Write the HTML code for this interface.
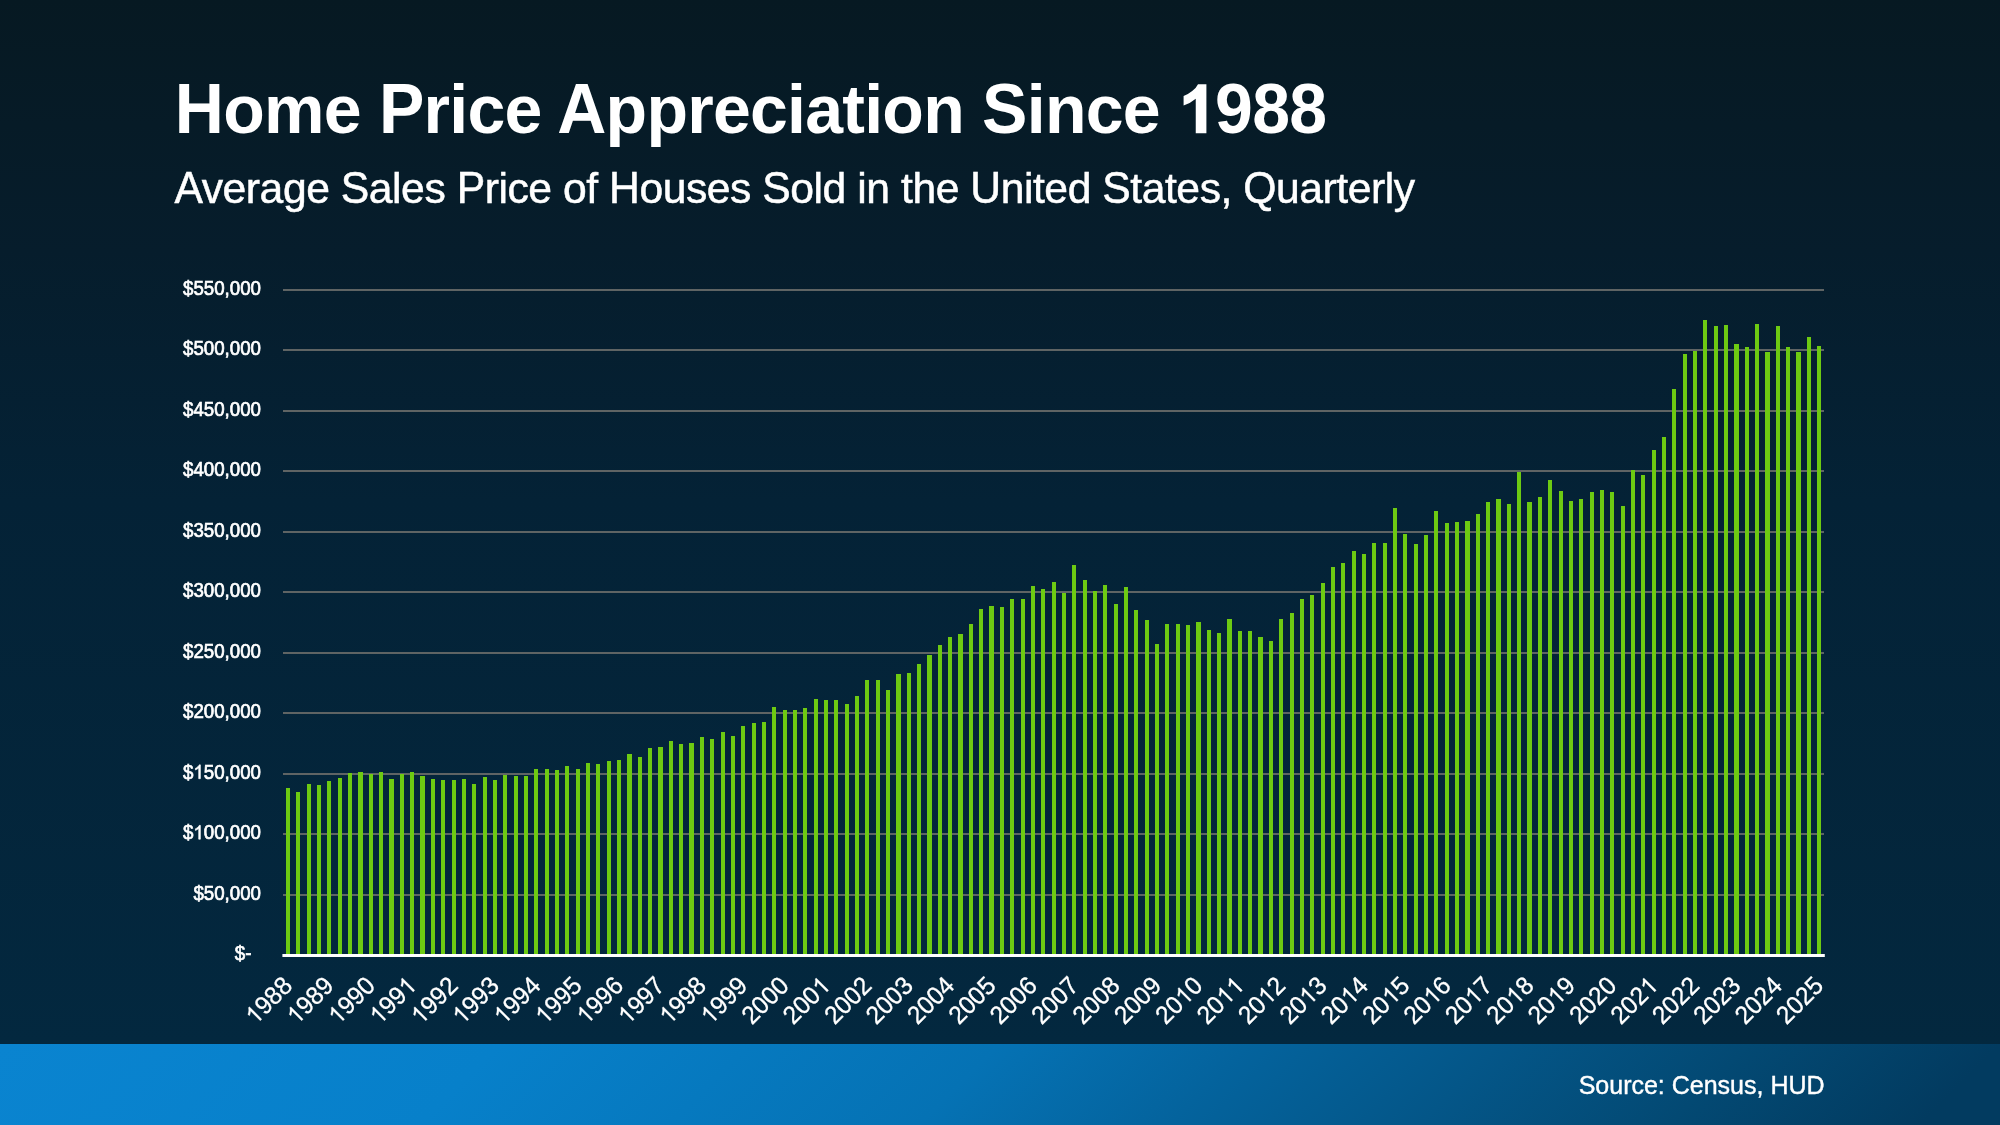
<!DOCTYPE html>
<html><head><meta charset="utf-8"><title>Home Price Appreciation Since 1988</title>
<style>
html,body{margin:0;padding:0;background:#04243c;}
body{width:2000px;height:1125px;overflow:hidden;font-family:"Liberation Sans",sans-serif;}
svg{display:block;will-change:transform;}
text{font-family:"Liberation Sans",sans-serif;fill:#fff;}
path{fill:#fff;}
</style></head><body>
<svg width="2000" height="1125" viewBox="0 0 2000 1125">
<defs>
<linearGradient id="bg" x1="0" y1="0" x2="0" y2="1">
<stop offset="0" stop-color="#061922"/>
<stop offset="0.24" stop-color="#061d2c"/>
<stop offset="0.48" stop-color="#042236"/>
<stop offset="1" stop-color="#03283f"/>
</linearGradient>
<linearGradient id="ft" gradientUnits="userSpaceOnUse" x1="0" y1="1044" x2="1000" y2="2044">
<stop offset="0" stop-color="#0a84d0"/>
<stop offset="0.25" stop-color="#0780ca"/>
<stop offset="0.5" stop-color="#0572b4"/>
<stop offset="0.625" stop-color="#04639d"/>
<stop offset="0.75" stop-color="#045688"/>
<stop offset="0.875" stop-color="#034973"/>
<stop offset="1" stop-color="#023b60"/>
</linearGradient>
</defs>
<rect x="0" y="0" width="2000" height="1044" fill="url(#bg)"/>
<rect x="0" y="1044" width="2000" height="81" fill="url(#ft)"/>
<g font-size="68" font-weight="700"><text y="133.2" x="223.16 263.96 323.69 423.53 449.27 467.43 504.50 605.58 646.38 687.19 712.91 749.99 787.07 805.22 842.30 864.22 882.36 923.17 1026.74 1044.89 1085.69 1122.78">omericeppreciationince</text><text y="0" x="174.80 378.93 557.22 982.13 1215.10 1252.17 1289.25" transform="translate(0,133.2) scale(1,1.035)">HPAS988</text><path d="M858 0L537 0L537 1036Q380 900 171 834L171 1117Q290 1160 430 1270Q560 1370 605 1472L858 1472Z" transform="translate(1177.92,133.2) scale(0.03320,-0.03320)"/></g>
<g font-size="42.67" stroke="#fff" stroke-width="0.5"><text y="203.2" x="201.73 222.59 245.86 259.62 282.89 306.17 368.83 392.10 401.12 424.39 484.65 498.41 507.43 528.29 562.97 586.24 639.38 662.65 685.93 706.79 730.07 790.32 813.59 822.62 857.29 866.31 900.98 912.38 935.65 1000.67 1023.94 1032.96 1044.36 1067.63 1130.29 1141.69 1164.96 1176.36 1199.63 1220.50 1276.02 1299.29 1322.57 1336.32 1347.72 1370.99 1384.75 1393.77">veragealesriceofousesoldinthenitedtates,uarterly</text><text y="0" x="174.50 340.84 456.66 609.03 762.33 970.32 1102.30 1243.30" transform="translate(0,203.2) scale(1,1.03)">ASPHSUSQ</text></g>
<g fill="#5f6464" shape-rendering="crispEdges">
<rect x="283" y="894" width="1541" height="2"/>
<rect x="283" y="833" width="1541" height="2"/>
<rect x="283" y="773" width="1541" height="2"/>
<rect x="283" y="712" width="1541" height="2"/>
<rect x="283" y="652" width="1541" height="2"/>
<rect x="283" y="591" width="1541" height="2"/>
<rect x="283" y="531" width="1541" height="2"/>
<rect x="283" y="470" width="1541" height="2"/>
<rect x="283" y="410" width="1541" height="2"/>
<rect x="283" y="349" width="1541" height="2"/>
<rect x="283" y="289" width="1541" height="2"/>
</g>
<g font-size="18.7" stroke="#fff" stroke-width="0.65">
<g transform="translate(0,899.70)"><text x="261.00" y="0" text-anchor="end" transform="scale(1,1.07)">$50,000</text></g>
<g transform="translate(0,839.20)"><text x="261.00" y="0" text-anchor="end" transform="scale(1,1.07)">00,000</text><path d="M763 0L583 0L583 1147Q518 1085 412.5 1023Q307 961 223 930L223 1104Q374 1175 487 1276Q600 1377 647 1472L763 1472Z" transform="translate(193.40,0) scale(0.00913,-0.00940)" stroke-width="71.2"/><text x="193.40" y="0" text-anchor="end" transform="scale(1,1.07)">$</text></g>
<g transform="translate(0,778.70)"><text x="261.00" y="0" text-anchor="end" transform="scale(1,1.07)">50,000</text><path d="M763 0L583 0L583 1147Q518 1085 412.5 1023Q307 961 223 930L223 1104Q374 1175 487 1276Q600 1377 647 1472L763 1472Z" transform="translate(193.40,0) scale(0.00913,-0.00940)" stroke-width="71.2"/><text x="193.40" y="0" text-anchor="end" transform="scale(1,1.07)">$</text></g>
<g transform="translate(0,718.20)"><text x="261.00" y="0" text-anchor="end" transform="scale(1,1.07)">$200,000</text></g>
<g transform="translate(0,657.70)"><text x="261.00" y="0" text-anchor="end" transform="scale(1,1.07)">$250,000</text></g>
<g transform="translate(0,597.20)"><text x="261.00" y="0" text-anchor="end" transform="scale(1,1.07)">$300,000</text></g>
<g transform="translate(0,536.70)"><text x="261.00" y="0" text-anchor="end" transform="scale(1,1.07)">$350,000</text></g>
<g transform="translate(0,476.20)"><text x="261.00" y="0" text-anchor="end" transform="scale(1,1.07)">$400,000</text></g>
<g transform="translate(0,415.70)"><text x="261.00" y="0" text-anchor="end" transform="scale(1,1.07)">$450,000</text></g>
<g transform="translate(0,355.20)"><text x="261.00" y="0" text-anchor="end" transform="scale(1,1.07)">$500,000</text></g>
<g transform="translate(0,294.70)"><text x="261.00" y="0" text-anchor="end" transform="scale(1,1.07)">$550,000</text></g>
<g transform="translate(0,960.20)"><text x="251.50" y="0" text-anchor="end" transform="scale(1,1.07)">$-</text></g>
</g>
<g fill="#6dca12" shape-rendering="crispEdges">
<rect x="286" y="788" width="4" height="167"/>
<rect x="296" y="792" width="4" height="163"/>
<rect x="307" y="784" width="4" height="171"/>
<rect x="317" y="785" width="4" height="170"/>
<rect x="327" y="781" width="4" height="174"/>
<rect x="338" y="778" width="4" height="177"/>
<rect x="348" y="773" width="4" height="182"/>
<rect x="358" y="772" width="5" height="183"/>
<rect x="369" y="774" width="4" height="181"/>
<rect x="379" y="772" width="4" height="183"/>
<rect x="389" y="779" width="5" height="176"/>
<rect x="400" y="774" width="4" height="181"/>
<rect x="410" y="772" width="4" height="183"/>
<rect x="420" y="776" width="5" height="179"/>
<rect x="431" y="779" width="4" height="176"/>
<rect x="441" y="780" width="4" height="175"/>
<rect x="452" y="780" width="4" height="175"/>
<rect x="462" y="779" width="4" height="176"/>
<rect x="472" y="784" width="4" height="171"/>
<rect x="483" y="777" width="4" height="178"/>
<rect x="493" y="780" width="4" height="175"/>
<rect x="503" y="775" width="4" height="180"/>
<rect x="514" y="776" width="4" height="179"/>
<rect x="524" y="776" width="4" height="179"/>
<rect x="534" y="769" width="4" height="186"/>
<rect x="545" y="769" width="4" height="186"/>
<rect x="555" y="770" width="4" height="185"/>
<rect x="565" y="766" width="4" height="189"/>
<rect x="576" y="769" width="4" height="186"/>
<rect x="586" y="763" width="4" height="192"/>
<rect x="596" y="764" width="4" height="191"/>
<rect x="607" y="761" width="4" height="194"/>
<rect x="617" y="760" width="4" height="195"/>
<rect x="627" y="754" width="5" height="201"/>
<rect x="638" y="757" width="4" height="198"/>
<rect x="648" y="748" width="4" height="207"/>
<rect x="658" y="747" width="5" height="208"/>
<rect x="669" y="741" width="4" height="214"/>
<rect x="679" y="744" width="4" height="211"/>
<rect x="689" y="743" width="5" height="212"/>
<rect x="700" y="737" width="4" height="218"/>
<rect x="710" y="739" width="4" height="216"/>
<rect x="721" y="732" width="4" height="223"/>
<rect x="731" y="736" width="4" height="219"/>
<rect x="741" y="726" width="4" height="229"/>
<rect x="752" y="723" width="4" height="232"/>
<rect x="762" y="722" width="4" height="233"/>
<rect x="772" y="707" width="4" height="248"/>
<rect x="783" y="710" width="4" height="245"/>
<rect x="793" y="710" width="4" height="245"/>
<rect x="803" y="708" width="4" height="247"/>
<rect x="814" y="699" width="4" height="256"/>
<rect x="824" y="700" width="4" height="255"/>
<rect x="834" y="700" width="4" height="255"/>
<rect x="845" y="704" width="4" height="251"/>
<rect x="855" y="696" width="4" height="259"/>
<rect x="865" y="680" width="4" height="275"/>
<rect x="876" y="680" width="4" height="275"/>
<rect x="886" y="690" width="4" height="265"/>
<rect x="896" y="674" width="5" height="281"/>
<rect x="907" y="673" width="4" height="282"/>
<rect x="917" y="664" width="4" height="291"/>
<rect x="927" y="655" width="5" height="300"/>
<rect x="938" y="645" width="4" height="310"/>
<rect x="948" y="637" width="4" height="318"/>
<rect x="958" y="634" width="5" height="321"/>
<rect x="969" y="624" width="4" height="331"/>
<rect x="979" y="609" width="4" height="346"/>
<rect x="989" y="606" width="5" height="349"/>
<rect x="1000" y="607" width="4" height="348"/>
<rect x="1010" y="599" width="4" height="356"/>
<rect x="1021" y="599" width="4" height="356"/>
<rect x="1031" y="586" width="4" height="369"/>
<rect x="1041" y="589" width="4" height="366"/>
<rect x="1052" y="582" width="4" height="373"/>
<rect x="1062" y="593" width="4" height="362"/>
<rect x="1072" y="565" width="4" height="390"/>
<rect x="1083" y="580" width="4" height="375"/>
<rect x="1093" y="591" width="4" height="364"/>
<rect x="1103" y="585" width="4" height="370"/>
<rect x="1114" y="604" width="4" height="351"/>
<rect x="1124" y="587" width="4" height="368"/>
<rect x="1134" y="610" width="4" height="345"/>
<rect x="1145" y="620" width="4" height="335"/>
<rect x="1155" y="644" width="4" height="311"/>
<rect x="1165" y="624" width="4" height="331"/>
<rect x="1176" y="624" width="4" height="331"/>
<rect x="1186" y="625" width="4" height="330"/>
<rect x="1196" y="622" width="5" height="333"/>
<rect x="1207" y="630" width="4" height="325"/>
<rect x="1217" y="633" width="4" height="322"/>
<rect x="1227" y="619" width="5" height="336"/>
<rect x="1238" y="631" width="4" height="324"/>
<rect x="1248" y="631" width="4" height="324"/>
<rect x="1258" y="637" width="5" height="318"/>
<rect x="1269" y="641" width="4" height="314"/>
<rect x="1279" y="619" width="4" height="336"/>
<rect x="1290" y="613" width="4" height="342"/>
<rect x="1300" y="599" width="4" height="356"/>
<rect x="1310" y="595" width="4" height="360"/>
<rect x="1321" y="583" width="4" height="372"/>
<rect x="1331" y="567" width="4" height="388"/>
<rect x="1341" y="563" width="4" height="392"/>
<rect x="1352" y="551" width="4" height="404"/>
<rect x="1362" y="554" width="4" height="401"/>
<rect x="1372" y="543" width="4" height="412"/>
<rect x="1383" y="543" width="4" height="412"/>
<rect x="1393" y="508" width="4" height="447"/>
<rect x="1403" y="534" width="4" height="421"/>
<rect x="1414" y="544" width="4" height="411"/>
<rect x="1424" y="535" width="4" height="420"/>
<rect x="1434" y="511" width="4" height="444"/>
<rect x="1445" y="523" width="4" height="432"/>
<rect x="1455" y="522" width="4" height="433"/>
<rect x="1465" y="521" width="5" height="434"/>
<rect x="1476" y="514" width="4" height="441"/>
<rect x="1486" y="502" width="4" height="453"/>
<rect x="1496" y="499" width="5" height="456"/>
<rect x="1507" y="504" width="4" height="451"/>
<rect x="1517" y="472" width="4" height="483"/>
<rect x="1527" y="502" width="5" height="453"/>
<rect x="1538" y="497" width="4" height="458"/>
<rect x="1548" y="480" width="4" height="475"/>
<rect x="1559" y="491" width="4" height="464"/>
<rect x="1569" y="501" width="4" height="454"/>
<rect x="1579" y="499" width="4" height="456"/>
<rect x="1590" y="492" width="4" height="463"/>
<rect x="1600" y="490" width="4" height="465"/>
<rect x="1610" y="492" width="4" height="463"/>
<rect x="1621" y="506" width="4" height="449"/>
<rect x="1631" y="470" width="4" height="485"/>
<rect x="1641" y="475" width="4" height="480"/>
<rect x="1652" y="450" width="4" height="505"/>
<rect x="1662" y="437" width="4" height="518"/>
<rect x="1672" y="389" width="4" height="566"/>
<rect x="1683" y="354" width="4" height="601"/>
<rect x="1693" y="351" width="4" height="604"/>
<rect x="1703" y="320" width="4" height="635"/>
<rect x="1714" y="326" width="4" height="629"/>
<rect x="1724" y="325" width="4" height="630"/>
<rect x="1734" y="344" width="5" height="611"/>
<rect x="1745" y="347" width="4" height="608"/>
<rect x="1755" y="324" width="4" height="631"/>
<rect x="1765" y="352" width="5" height="603"/>
<rect x="1776" y="326" width="4" height="629"/>
<rect x="1786" y="347" width="4" height="608"/>
<rect x="1796" y="352" width="5" height="603"/>
<rect x="1807" y="337" width="4" height="618"/>
<rect x="1817" y="346" width="4" height="609"/>
</g>
<rect x="282.4" y="954" width="1542.4" height="3" fill="#fff"/>
<g font-size="24.4" stroke="#fff" stroke-width="0.3">
<g transform="translate(293.74,987.2) rotate(-45)"><text x="0.00" y="0" text-anchor="end" transform="scale(1,1.04)">988</text><path d="M763 0L583 0L583 1147Q518 1085 412.5 1023Q307 961 223 930L223 1104Q374 1175 487 1276Q600 1377 647 1472L763 1472Z" transform="translate(-54.28,0) scale(0.01191,-0.01191)" stroke-width="25.2"/></g>
<g transform="translate(335.12,987.2) rotate(-45)"><text x="0.00" y="0" text-anchor="end" transform="scale(1,1.04)">989</text><path d="M763 0L583 0L583 1147Q518 1085 412.5 1023Q307 961 223 930L223 1104Q374 1175 487 1276Q600 1377 647 1472L763 1472Z" transform="translate(-54.28,0) scale(0.01191,-0.01191)" stroke-width="25.2"/></g>
<g transform="translate(376.50,987.2) rotate(-45)"><text x="0.00" y="0" text-anchor="end" transform="scale(1,1.04)">990</text><path d="M763 0L583 0L583 1147Q518 1085 412.5 1023Q307 961 223 930L223 1104Q374 1175 487 1276Q600 1377 647 1472L763 1472Z" transform="translate(-54.28,0) scale(0.01191,-0.01191)" stroke-width="25.2"/></g>
<g transform="translate(417.89,987.2) rotate(-45)"><path d="M763 0L583 0L583 1147Q518 1085 412.5 1023Q307 961 223 930L223 1104Q374 1175 487 1276Q600 1377 647 1472L763 1472Z" transform="translate(-13.57,0) scale(0.01191,-0.01191)" stroke-width="25.2"/><text x="-13.57" y="0" text-anchor="end" transform="scale(1,1.04)">99</text><path d="M763 0L583 0L583 1147Q518 1085 412.5 1023Q307 961 223 930L223 1104Q374 1175 487 1276Q600 1377 647 1472L763 1472Z" transform="translate(-54.28,0) scale(0.01191,-0.01191)" stroke-width="25.2"/></g>
<g transform="translate(459.27,987.2) rotate(-45)"><text x="0.00" y="0" text-anchor="end" transform="scale(1,1.04)">992</text><path d="M763 0L583 0L583 1147Q518 1085 412.5 1023Q307 961 223 930L223 1104Q374 1175 487 1276Q600 1377 647 1472L763 1472Z" transform="translate(-54.28,0) scale(0.01191,-0.01191)" stroke-width="25.2"/></g>
<g transform="translate(500.65,987.2) rotate(-45)"><text x="0.00" y="0" text-anchor="end" transform="scale(1,1.04)">993</text><path d="M763 0L583 0L583 1147Q518 1085 412.5 1023Q307 961 223 930L223 1104Q374 1175 487 1276Q600 1377 647 1472L763 1472Z" transform="translate(-54.28,0) scale(0.01191,-0.01191)" stroke-width="25.2"/></g>
<g transform="translate(542.04,987.2) rotate(-45)"><text x="0.00" y="0" text-anchor="end" transform="scale(1,1.04)">994</text><path d="M763 0L583 0L583 1147Q518 1085 412.5 1023Q307 961 223 930L223 1104Q374 1175 487 1276Q600 1377 647 1472L763 1472Z" transform="translate(-54.28,0) scale(0.01191,-0.01191)" stroke-width="25.2"/></g>
<g transform="translate(583.42,987.2) rotate(-45)"><text x="0.00" y="0" text-anchor="end" transform="scale(1,1.04)">995</text><path d="M763 0L583 0L583 1147Q518 1085 412.5 1023Q307 961 223 930L223 1104Q374 1175 487 1276Q600 1377 647 1472L763 1472Z" transform="translate(-54.28,0) scale(0.01191,-0.01191)" stroke-width="25.2"/></g>
<g transform="translate(624.80,987.2) rotate(-45)"><text x="0.00" y="0" text-anchor="end" transform="scale(1,1.04)">996</text><path d="M763 0L583 0L583 1147Q518 1085 412.5 1023Q307 961 223 930L223 1104Q374 1175 487 1276Q600 1377 647 1472L763 1472Z" transform="translate(-54.28,0) scale(0.01191,-0.01191)" stroke-width="25.2"/></g>
<g transform="translate(666.19,987.2) rotate(-45)"><text x="0.00" y="0" text-anchor="end" transform="scale(1,1.04)">997</text><path d="M763 0L583 0L583 1147Q518 1085 412.5 1023Q307 961 223 930L223 1104Q374 1175 487 1276Q600 1377 647 1472L763 1472Z" transform="translate(-54.28,0) scale(0.01191,-0.01191)" stroke-width="25.2"/></g>
<g transform="translate(707.57,987.2) rotate(-45)"><text x="0.00" y="0" text-anchor="end" transform="scale(1,1.04)">998</text><path d="M763 0L583 0L583 1147Q518 1085 412.5 1023Q307 961 223 930L223 1104Q374 1175 487 1276Q600 1377 647 1472L763 1472Z" transform="translate(-54.28,0) scale(0.01191,-0.01191)" stroke-width="25.2"/></g>
<g transform="translate(748.95,987.2) rotate(-45)"><text x="0.00" y="0" text-anchor="end" transform="scale(1,1.04)">999</text><path d="M763 0L583 0L583 1147Q518 1085 412.5 1023Q307 961 223 930L223 1104Q374 1175 487 1276Q600 1377 647 1472L763 1472Z" transform="translate(-54.28,0) scale(0.01191,-0.01191)" stroke-width="25.2"/></g>
<g transform="translate(790.34,987.2) rotate(-45)"><text x="0.00" y="0" text-anchor="end" transform="scale(1,1.04)">2000</text></g>
<g transform="translate(831.72,987.2) rotate(-45)"><path d="M763 0L583 0L583 1147Q518 1085 412.5 1023Q307 961 223 930L223 1104Q374 1175 487 1276Q600 1377 647 1472L763 1472Z" transform="translate(-13.57,0) scale(0.01191,-0.01191)" stroke-width="25.2"/><text x="-13.57" y="0" text-anchor="end" transform="scale(1,1.04)">200</text></g>
<g transform="translate(873.11,987.2) rotate(-45)"><text x="0.00" y="0" text-anchor="end" transform="scale(1,1.04)">2002</text></g>
<g transform="translate(914.49,987.2) rotate(-45)"><text x="0.00" y="0" text-anchor="end" transform="scale(1,1.04)">2003</text></g>
<g transform="translate(955.87,987.2) rotate(-45)"><text x="0.00" y="0" text-anchor="end" transform="scale(1,1.04)">2004</text></g>
<g transform="translate(997.26,987.2) rotate(-45)"><text x="0.00" y="0" text-anchor="end" transform="scale(1,1.04)">2005</text></g>
<g transform="translate(1038.64,987.2) rotate(-45)"><text x="0.00" y="0" text-anchor="end" transform="scale(1,1.04)">2006</text></g>
<g transform="translate(1080.02,987.2) rotate(-45)"><text x="0.00" y="0" text-anchor="end" transform="scale(1,1.04)">2007</text></g>
<g transform="translate(1121.41,987.2) rotate(-45)"><text x="0.00" y="0" text-anchor="end" transform="scale(1,1.04)">2008</text></g>
<g transform="translate(1162.79,987.2) rotate(-45)"><text x="0.00" y="0" text-anchor="end" transform="scale(1,1.04)">2009</text></g>
<g transform="translate(1204.17,987.2) rotate(-45)"><text x="0.00" y="0" text-anchor="end" transform="scale(1,1.04)">0</text><path d="M763 0L583 0L583 1147Q518 1085 412.5 1023Q307 961 223 930L223 1104Q374 1175 487 1276Q600 1377 647 1472L763 1472Z" transform="translate(-27.14,0) scale(0.01191,-0.01191)" stroke-width="25.2"/><text x="-27.14" y="0" text-anchor="end" transform="scale(1,1.04)">20</text></g>
<g transform="translate(1245.56,987.2) rotate(-45)"><path d="M763 0L583 0L583 1147Q518 1085 412.5 1023Q307 961 223 930L223 1104Q374 1175 487 1276Q600 1377 647 1472L763 1472Z" transform="translate(-13.57,0) scale(0.01191,-0.01191)" stroke-width="25.2"/><path d="M763 0L583 0L583 1147Q518 1085 412.5 1023Q307 961 223 930L223 1104Q374 1175 487 1276Q600 1377 647 1472L763 1472Z" transform="translate(-27.14,0) scale(0.01191,-0.01191)" stroke-width="25.2"/><text x="-27.14" y="0" text-anchor="end" transform="scale(1,1.04)">20</text></g>
<g transform="translate(1286.94,987.2) rotate(-45)"><text x="0.00" y="0" text-anchor="end" transform="scale(1,1.04)">2</text><path d="M763 0L583 0L583 1147Q518 1085 412.5 1023Q307 961 223 930L223 1104Q374 1175 487 1276Q600 1377 647 1472L763 1472Z" transform="translate(-27.14,0) scale(0.01191,-0.01191)" stroke-width="25.2"/><text x="-27.14" y="0" text-anchor="end" transform="scale(1,1.04)">20</text></g>
<g transform="translate(1328.32,987.2) rotate(-45)"><text x="0.00" y="0" text-anchor="end" transform="scale(1,1.04)">3</text><path d="M763 0L583 0L583 1147Q518 1085 412.5 1023Q307 961 223 930L223 1104Q374 1175 487 1276Q600 1377 647 1472L763 1472Z" transform="translate(-27.14,0) scale(0.01191,-0.01191)" stroke-width="25.2"/><text x="-27.14" y="0" text-anchor="end" transform="scale(1,1.04)">20</text></g>
<g transform="translate(1369.71,987.2) rotate(-45)"><text x="0.00" y="0" text-anchor="end" transform="scale(1,1.04)">4</text><path d="M763 0L583 0L583 1147Q518 1085 412.5 1023Q307 961 223 930L223 1104Q374 1175 487 1276Q600 1377 647 1472L763 1472Z" transform="translate(-27.14,0) scale(0.01191,-0.01191)" stroke-width="25.2"/><text x="-27.14" y="0" text-anchor="end" transform="scale(1,1.04)">20</text></g>
<g transform="translate(1411.09,987.2) rotate(-45)"><text x="0.00" y="0" text-anchor="end" transform="scale(1,1.04)">5</text><path d="M763 0L583 0L583 1147Q518 1085 412.5 1023Q307 961 223 930L223 1104Q374 1175 487 1276Q600 1377 647 1472L763 1472Z" transform="translate(-27.14,0) scale(0.01191,-0.01191)" stroke-width="25.2"/><text x="-27.14" y="0" text-anchor="end" transform="scale(1,1.04)">20</text></g>
<g transform="translate(1452.47,987.2) rotate(-45)"><text x="0.00" y="0" text-anchor="end" transform="scale(1,1.04)">6</text><path d="M763 0L583 0L583 1147Q518 1085 412.5 1023Q307 961 223 930L223 1104Q374 1175 487 1276Q600 1377 647 1472L763 1472Z" transform="translate(-27.14,0) scale(0.01191,-0.01191)" stroke-width="25.2"/><text x="-27.14" y="0" text-anchor="end" transform="scale(1,1.04)">20</text></g>
<g transform="translate(1493.86,987.2) rotate(-45)"><text x="0.00" y="0" text-anchor="end" transform="scale(1,1.04)">7</text><path d="M763 0L583 0L583 1147Q518 1085 412.5 1023Q307 961 223 930L223 1104Q374 1175 487 1276Q600 1377 647 1472L763 1472Z" transform="translate(-27.14,0) scale(0.01191,-0.01191)" stroke-width="25.2"/><text x="-27.14" y="0" text-anchor="end" transform="scale(1,1.04)">20</text></g>
<g transform="translate(1535.24,987.2) rotate(-45)"><text x="0.00" y="0" text-anchor="end" transform="scale(1,1.04)">8</text><path d="M763 0L583 0L583 1147Q518 1085 412.5 1023Q307 961 223 930L223 1104Q374 1175 487 1276Q600 1377 647 1472L763 1472Z" transform="translate(-27.14,0) scale(0.01191,-0.01191)" stroke-width="25.2"/><text x="-27.14" y="0" text-anchor="end" transform="scale(1,1.04)">20</text></g>
<g transform="translate(1576.62,987.2) rotate(-45)"><text x="0.00" y="0" text-anchor="end" transform="scale(1,1.04)">9</text><path d="M763 0L583 0L583 1147Q518 1085 412.5 1023Q307 961 223 930L223 1104Q374 1175 487 1276Q600 1377 647 1472L763 1472Z" transform="translate(-27.14,0) scale(0.01191,-0.01191)" stroke-width="25.2"/><text x="-27.14" y="0" text-anchor="end" transform="scale(1,1.04)">20</text></g>
<g transform="translate(1618.01,987.2) rotate(-45)"><text x="0.00" y="0" text-anchor="end" transform="scale(1,1.04)">2020</text></g>
<g transform="translate(1659.39,987.2) rotate(-45)"><path d="M763 0L583 0L583 1147Q518 1085 412.5 1023Q307 961 223 930L223 1104Q374 1175 487 1276Q600 1377 647 1472L763 1472Z" transform="translate(-13.57,0) scale(0.01191,-0.01191)" stroke-width="25.2"/><text x="-13.57" y="0" text-anchor="end" transform="scale(1,1.04)">202</text></g>
<g transform="translate(1700.77,987.2) rotate(-45)"><text x="0.00" y="0" text-anchor="end" transform="scale(1,1.04)">2022</text></g>
<g transform="translate(1742.16,987.2) rotate(-45)"><text x="0.00" y="0" text-anchor="end" transform="scale(1,1.04)">2023</text></g>
<g transform="translate(1783.54,987.2) rotate(-45)"><text x="0.00" y="0" text-anchor="end" transform="scale(1,1.04)">2024</text></g>
<g transform="translate(1824.92,987.2) rotate(-45)"><text x="0.00" y="0" text-anchor="end" transform="scale(1,1.04)">2025</text></g>
</g>
<text x="1824.6" y="1094.1" font-size="25.0" text-anchor="end" stroke="#fff" stroke-width="0.4">Source: Census, HUD</text>
</svg></body></html>
